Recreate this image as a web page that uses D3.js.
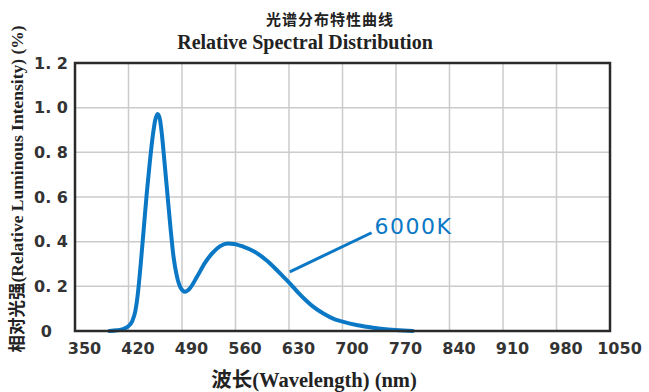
<!DOCTYPE html>
<html>
<head>
<meta charset="utf-8">
<script src="https://cdn.jsdelivr.net/npm/d3@7"></script>
<style>
  html, body { margin: 0; padding: 0; background: #fff; }
  svg { display: block; }
</style>
</head>
<body>
<svg id="chart" width="649" height="392"></svg>
<script>
// Relative spectral distribution of a 6000K white LED
const wavelengths = [395, 405, 413, 420, 425, 429, 432, 436, 440, 444, 448, 452, 455, 458, 461, 464, 467, 471, 475, 479, 483, 488, 494, 500, 510, 520, 530, 540, 550, 558, 570, 585, 600, 612, 622, 632, 642, 652, 662, 675, 690, 700, 720, 740, 760, 780, 792];
const intensity   = [0, 0.003, 0.009, 0.022, 0.045, 0.09, 0.16, 0.30, 0.46, 0.62, 0.76, 0.88, 0.945, 0.972, 0.95, 0.87, 0.76, 0.61, 0.46, 0.33, 0.25, 0.195, 0.176, 0.19, 0.245, 0.305, 0.35, 0.38, 0.392, 0.39, 0.378, 0.355, 0.318, 0.28, 0.245, 0.21, 0.172, 0.138, 0.108, 0.078, 0.052, 0.042, 0.026, 0.015, 0.007, 0.002, 0];

const xTicks = [350, 420, 490, 560, 630, 700, 770, 840, 910, 980, 1050];
const yTicks = [0, 0.2, 0.4, 0.6, 0.8, 1.0, 1.2];
const yTickLabels = ["0", "0. 2", "0. 4", "0. 6", "0. 8", "1. 0", "1. 2"];

const seriesName = "6000K";
const leaderFrom = [631, 0.265];
const leaderTo = [738, 0.44];

const titleCn = "光谱分布特性曲线";
const titleEn = "Relative Spectral Distribution";
const yTitle = "相对光强(Relative Luminous Intensity) (%)";
const xTitle = "波长(Wavelength) (nm)";

const W = 649, H = 392;
const margin = { top: 63, right: 39, bottom: 61, left: 75 };
const blue = "#0b78c6";

const svg = d3.select("#chart");
const x = d3.scaleLinear().domain([350, 1050]).range([margin.left, W - margin.right]);
const y = d3.scaleLinear().domain([0, 1.2]).range([H - margin.bottom, margin.top]);

// grid
const grid = svg.append("g").attr("stroke", "#cbcbcb").attr("stroke-width", 1.5);
grid.selectAll("line.v").data(xTicks.slice(1, -1)).join("line")
  .attr("x1", d => x(d)).attr("x2", d => x(d))
  .attr("y1", y(0)).attr("y2", y(1.2));
grid.selectAll("line.h").data(yTicks.slice(1, -1)).join("line")
  .attr("x1", x(350)).attr("x2", x(1050))
  .attr("y1", d => y(d)).attr("y2", d => y(d));

// spectrum curve
const pts = wavelengths.map((w, i) => [w, intensity[i]]);
const line = d3.line().x(d => x(d[0])).y(d => y(d[1])).curve(d3.curveMonotoneX);
svg.append("path").datum(pts)
  .attr("d", line)
  .attr("fill", "none")
  .attr("stroke", blue)
  .attr("stroke-width", 4)
  .attr("stroke-linecap", "round")
  .attr("stroke-linejoin", "round");

// frame
svg.append("rect")
  .attr("x", x(350)).attr("y", y(1.2))
  .attr("width", x(1050) - x(350)).attr("height", y(0) - y(1.2))
  .attr("fill", "none").attr("stroke", "#2a2a2a").attr("stroke-width", 2.5);

// axes
const xAxis = d3.axisBottom(x).tickValues(xTicks).tickSize(0).tickPadding(12)
  .tickFormat(d3.format("d"));
const gx = svg.append("g").attr("transform", `translate(0,${y(0)})`).call(xAxis);
gx.select(".domain").remove();
gx.selectAll("text")
  .attr("dx", 9)
  .attr("font-family", "DejaVu Sans, sans-serif")
  .attr("font-weight", "bold")
  .attr("font-size", 16)
  .attr("fill", "#333");

const yAxis = d3.axisLeft(y).tickValues(yTicks).tickSize(0).tickPadding(7)
  .tickFormat((d, i) => yTickLabels[i]);
const gy = svg.append("g").attr("transform", `translate(${x(350)},0)`).call(yAxis);
gy.select(".domain").remove();
gy.selectAll("text")
  .attr("font-family", "DejaVu Sans, sans-serif")
  .attr("font-weight", "bold")
  .attr("font-size", 16)
  .attr("fill", "#333")
  .attr("dx", (d, i) => i === 0 ? -16 : 0);

// titles
svg.append("text")
  .attr("x", 330).attr("y", 25)
  .attr("text-anchor", "middle")
  .attr("font-family", "Noto Sans CJK SC, sans-serif")
  .attr("font-weight", "bold")
  .attr("font-size", 15)
  .attr("letter-spacing", 1)
  .attr("fill", "#222")
  .text(titleCn);
svg.append("text")
  .attr("x", 305).attr("y", 49)
  .attr("text-anchor", "middle")
  .attr("font-family", "Liberation Serif, serif")
  .attr("font-weight", "bold")
  .attr("font-size", 20)
  .attr("fill", "#222")
  .text(titleEn);

svg.append("text")
  .attr("transform", `translate(23,${189}) rotate(-90)`)
  .attr("text-anchor", "middle")
  .attr("font-family", "Liberation Serif, Noto Sans CJK SC, serif")
  .attr("font-weight", "bold")
  .attr("font-size", 17.5)
  .attr("fill", "#222")
  .text(yTitle);

svg.append("text")
  .attr("x", 314).attr("y", 387)
  .attr("text-anchor", "middle")
  .attr("font-family", "Liberation Serif, Noto Sans CJK SC, serif")
  .attr("font-weight", "bold")
  .attr("font-size", 20.5)
  .attr("fill", "#222")
  .text(xTitle);

// series annotation
svg.append("line")
  .attr("x1", x(leaderFrom[0])).attr("y1", y(leaderFrom[1]))
  .attr("x2", x(leaderTo[0])).attr("y2", y(leaderTo[1]))
  .attr("stroke", blue).attr("stroke-width", 3);
svg.append("text")
  .attr("x", x(leaderTo[0]) + 3).attr("y", y(leaderTo[1]) + 1)
  .attr("font-family", "DejaVu Sans, sans-serif")
  .attr("font-size", 22)
  .attr("letter-spacing", 1.5)
  .attr("fill", blue)
  .text(seriesName);
</script>
</body>
</html>
